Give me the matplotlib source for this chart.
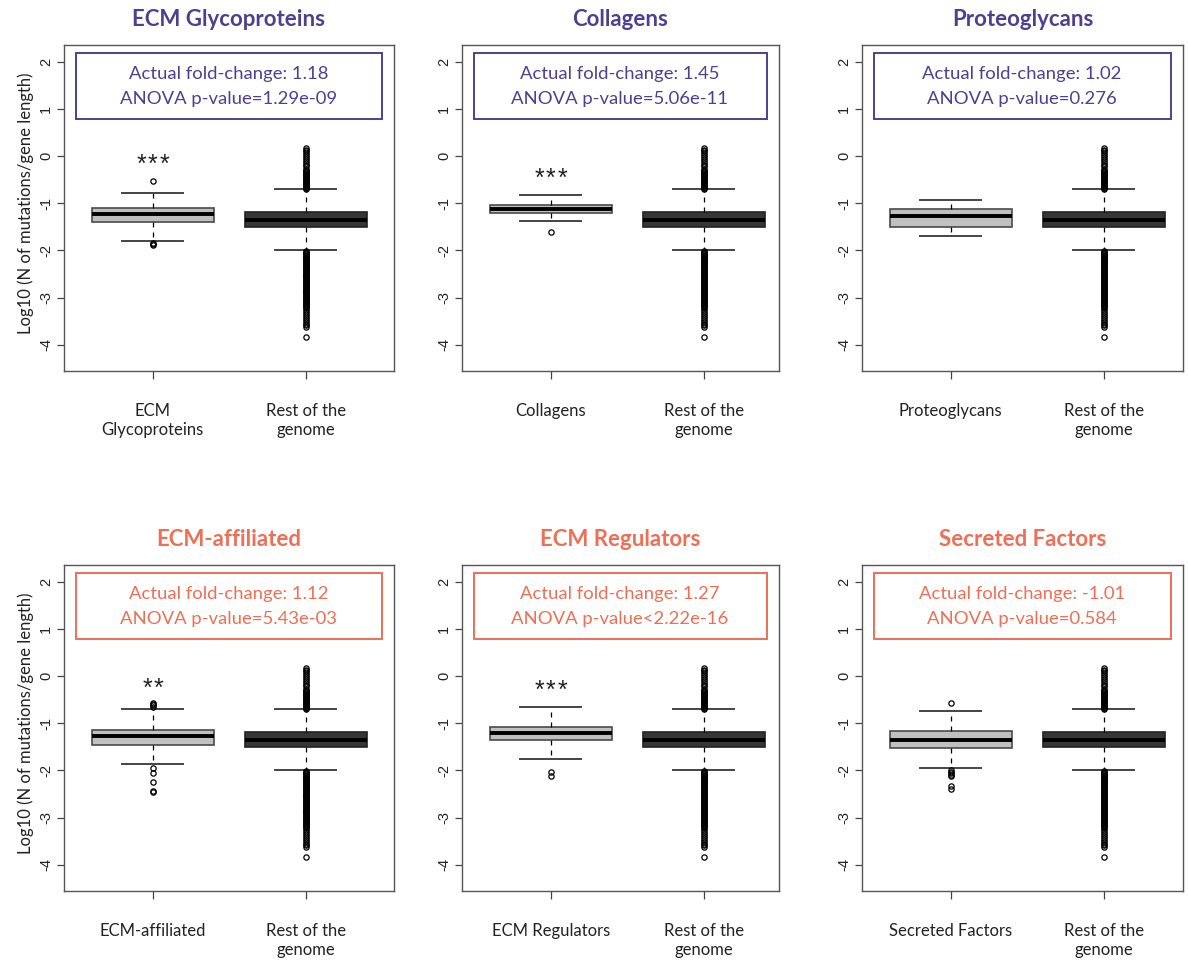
import matplotlib
matplotlib.use("Agg")
import matplotlib.pyplot as plt
from matplotlib.patches import Rectangle

# panel data
groups = ["ECM Glycoproteins", "Collagens", "Proteoglycans",
          "ECM-affiliated", "ECM Regulators", "Secreted Factors"]
xlabels = ["ECM\nGlycoproteins", "Collagens", "Proteoglycans",
           "ECM-affiliated", "ECM Regulators", "Secreted Factors"]
rest_label = "Rest of the\ngenome"
fold_change = ["1.18", "1.45", "1.02", "1.12", "1.27", "-1.01"]
anova_p = ["=1.29e-09", "=5.06e-11", "=0.276", "=5.43e-03", "<2.22e-16", "=0.584"]
stars = ["***", "***", "", "**", "***", ""]
star_y = [-0.02, -0.30, None, -0.09, -0.15, None]

grp_q1 = [-1.39, -1.21, -1.50, -1.46, -1.35, -1.52]
grp_med = [-1.22, -1.13, -1.27, -1.28, -1.20, -1.35]
grp_q3 = [-1.11, -1.04, -1.13, -1.14, -1.07, -1.17]
grp_lo = [-1.79, -1.37, -1.70, -1.86, -1.75, -1.95]
grp_hi = [-0.79, -0.82, -0.94, -0.70, -0.65, -0.73]
grp_fliers = [
    [-0.52, -1.84, -1.87, -1.89],
    [-1.61],
    [],
    [-0.56, -0.59, -0.62, -0.65, -1.94, -2.05, -2.25, -2.44, -2.46],
    [-2.04, -2.12],
    [-0.57, -2.00, -2.03, -2.06, -2.09, -2.11, -2.32, -2.40],
]

# rest of the genome (same in every panel)
rest_q1, rest_med, rest_q3 = -1.51, -1.35, -1.19
rest_lo, rest_hi = -2.00, -0.70
rest_fliers = [
    -0.69, -0.67, -0.65, -0.63, -0.61, -0.59, -0.57, -0.55, -0.53, -0.51,
    -0.49, -0.47, -0.45, -0.43, -0.41, -0.39, -0.37, -0.35, -0.33, -0.31,
    -0.29, -0.27,
    -0.22, -0.18, -0.14, -0.10, -0.06, -0.02, 0.02, 0.06, 0.10, 0.14, 0.17,
    -2.01, -2.03, -2.05, -2.07, -2.09, -2.11, -2.13, -2.15, -2.17, -2.19,
    -2.21, -2.23, -2.25, -2.27, -2.29, -2.31, -2.33, -2.35, -2.37, -2.39,
    -2.41, -2.43, -2.45, -2.47, -2.49, -2.51, -2.53, -2.55, -2.57, -2.59,
    -2.61, -2.63, -2.65, -2.67, -2.69, -2.71, -2.73, -2.75, -2.77, -2.79,
    -2.81, -2.83, -2.85, -2.87, -2.89, -2.91, -2.93, -2.95, -2.97, -2.99,
    -3.01, -3.03, -3.05, -3.07, -3.09, -3.11, -3.13, -3.15, -3.17, -3.19,
    -3.23, -3.27, -3.31, -3.35, -3.39, -3.43, -3.47, -3.51, -3.55, -3.59,
    -3.62,
    -3.84,
]

yticks = [-4, -3, -2, -1, 0, 1, 2]

PURPLE = "#4E3F91"
SALMON = "#F06E55"
row_colors = [PURPLE, PURPLE, PURPLE, SALMON, SALMON, SALMON]

plt.rcParams['font.family'] = ['Lato', 'DejaVu Sans']

W, H = 1188, 963
fig = plt.figure(figsize=(W / 100, H / 100), dpi=100)

col_left = [64, 462, 862]
col_right = [394, 779, 1183]
row_top = [45, 565]
ax_h = 326
px_per_unit = 153.0

for i in range(6):
    r, c = divmod(i, 3)
    left, right = col_left[c], col_right[c]
    top = row_top[r]
    ax = fig.add_axes([left / W, 1 - (top + ax_h) / H, (right - left) / W, ax_h / H])

    stats = [
        dict(med=grp_med[i], q1=grp_q1[i], q3=grp_q3[i],
             whislo=grp_lo[i], whishi=grp_hi[i], fliers=grp_fliers[i]),
        dict(med=rest_med, q1=rest_q1, q3=rest_q3,
             whislo=rest_lo, whishi=rest_hi, fliers=rest_fliers),
    ]
    bp = ax.bxp(stats, positions=[1, 2], widths=0.8, capwidths=0.4,
                patch_artist=True,
                boxprops=dict(linewidth=1.2),
                medianprops=dict(color="black", linewidth=2.8, solid_capstyle="butt"),
                whiskerprops=dict(color="black", linewidth=0.9, linestyle=(0, (4, 4))),
                capprops=dict(color="#444444", linewidth=1.4),
                flierprops=dict(marker="o", markersize=3.8, markerfacecolor="none",
                                markeredgecolor="black", markeredgewidth=0.9))
    bp["boxes"][0].set_facecolor("#C0C0C0")
    bp["boxes"][0].set_edgecolor("#4a4a4a")
    bp["boxes"][1].set_facecolor("#363636")
    bp["boxes"][1].set_edgecolor("#222222")

    ax.set_xlim(0.42, 0.42 + (right - left) / px_per_unit)
    ax.set_ylim(-4.556, 2.356)

    ax.set_xticks([1, 2])
    ax.set_xticklabels([xlabels[i], rest_label], fontsize=12, color="#222222")
    ax.tick_params(axis="x", length=6, width=0.9, color="#444444", pad=17)
    ax.set_yticks(yticks)
    ax.set_yticklabels([str(t) for t in yticks], rotation=90, va="center",
                       fontsize=10.5, family="Liberation Sans", color="#222222")
    ax.tick_params(axis="y", length=5, width=0.9, color="#444444", pad=3)
    for s in ax.spines.values():
        s.set_color("#555555")
        s.set_linewidth(1.0)

    # annotation box
    w_px = right - left
    ax.add_patch(Rectangle((11.5 / w_px, 1 - 74 / ax_h), (w_px - 24) / w_px, 66 / ax_h,
                           transform=ax.transAxes, fill=False,
                           edgecolor=row_colors[i], linewidth=1.4, clip_on=False))
    ax.text(0.5 - 0.5 / w_px, 1 - 29 / ax_h, f"Actual fold-change: {fold_change[i]}",
            transform=ax.transAxes, ha="center", va="center", fontsize=13.3,
            color=row_colors[i])
    ax.text(0.5 - 0.5 / w_px, 1 - 54 / ax_h, f"ANOVA p-value{anova_p[i]}",
            transform=ax.transAxes, ha="center", va="center", fontsize=13.3,
            color=row_colors[i])

    # significance stars, one glyph each so the spacing matches
    n = len(stars[i])
    for k in range(n):
        ax.text(1 + (k - (n - 1) / 2) * 0.074, star_y[i] - 0.32, "*",
                ha="center", va="baseline", fontsize=18,
                family="Liberation Sans", color="#222222")

    # panel title
    fig.text((left + right) / 2 / W, 1 - (top - 26) / H, groups[i],
             ha="center", va="center", fontsize=16, fontweight="bold",
             color=row_colors[i])

    if c == 0:
        fig.text(26 / W, 1 - (top + ax_h / 2 - 5) / H,
                 "Log10 (N of mutations/gene length)", rotation=90,
                 ha="center", va="center", fontsize=12, color="#222222")

fig.savefig("out.png", dpi=100)
